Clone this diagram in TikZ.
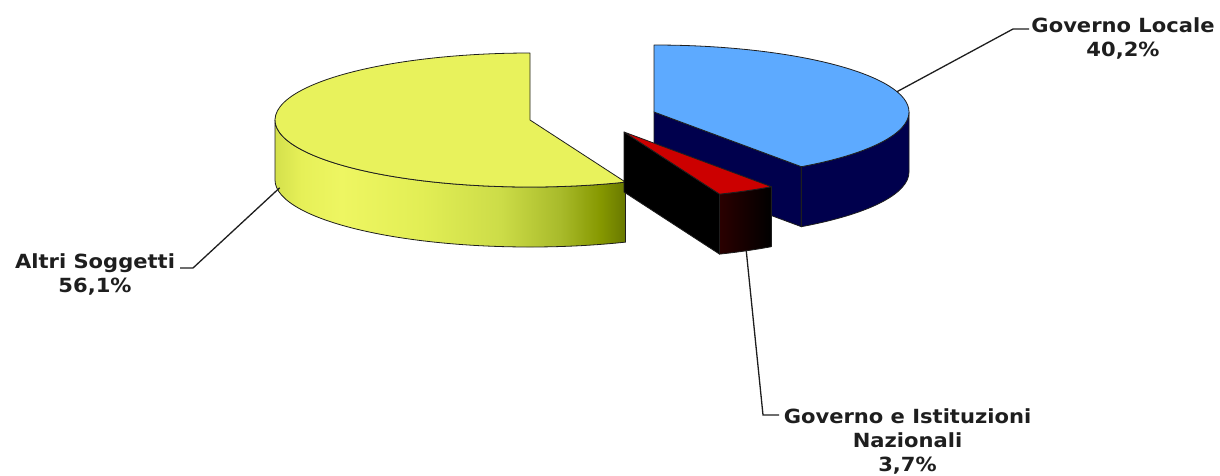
\documentclass[tikz,border=0pt]{standalone}
\usepackage{fontspec}
\setmainfont{DejaVu Sans}
\newfontfamily\lblfont[FakeStretch=1.08]{DejaVu Sans Bold}
\usetikzlibrary{calc}
\definecolor{ytop}{HTML}{E8F25C}
\definecolor{ys0}{HTML}{D4E04C}
\definecolor{ys1}{HTML}{E6F058}
\definecolor{ys2}{HTML}{EEF662}
\definecolor{ys3}{HTML}{E2EE55}
\definecolor{ys4}{HTML}{CCDC48}
\definecolor{ys5}{HTML}{A8BA2A}
\definecolor{ys6}{HTML}{869800}
\definecolor{ys7}{HTML}{687800}
\definecolor{btop}{HTML}{5DAAFF}
\definecolor{navy}{HTML}{00004D}
\definecolor{rtop}{HTML}{CC0000}
\definecolor{rs1}{HTML}{2A0000}
\definecolor{ink}{HTML}{1E1E1E}
\pgfdeclarehorizontalshading{yside}{100bp}{color(0bp)=(ys0); color(25bp)=(ys0); color(28.8bp)=(ys1); color(34.5bp)=(ys2); color(45.9bp)=(ys3); color(57.2bp)=(ys4); color(65.8bp)=(ys5); color(71.4bp)=(ys6); color(75bp)=(ys7); color(100bp)=(ys7)}
\begin{document}
\begin{tikzpicture}[x=1pt,y=1pt,
  edge/.style={draw=ink, line width=0.8pt, line join=round},
  lead/.style={draw=ink, line width=1.3pt},
  ell/.style={x radius=255pt, y radius=67pt},
  lbl/.style={font=\lblfont\fontsize{19.5}{24}\selectfont, align=center, inner sep=0pt, text=ink}]
\useasboundingbox (0,0) rectangle (1220,-475);
\coordinate (Y) at (530,-120);
\coordinate (B) at (654,-112);
\coordinate (R) at (624,-132);
% yellow slice
\shadedraw[shading=yside, edge] ($(Y)+(180:255pt and 67pt)$) arc[ell,start angle=180,end angle=292] -- ++(0,-60) arc[ell,start angle=292,end angle=180] -- cycle;
\filldraw[fill=ytop, edge] (Y) -- ($(Y)+(292:255pt and 67pt)$) arc[ell,start angle=292,end angle=90] -- cycle;
% blue slice
\filldraw[fill=navy, edge] (B) -- ($(B)+(-54.7:255pt and 67pt)$) -- ++(0,-60) -- ($(B)+(0,-60)$) -- cycle;
\filldraw[fill=navy, edge] ($(B)+(-54.7:255pt and 67pt)$) arc[ell,start angle=-54.7,end angle=0] -- ++(0,-60) arc[ell,start angle=0,end angle=-54.7] -- cycle;
\filldraw[fill=btop, edge] (B) -- ($(B)+(90:255pt and 67pt)$) arc[ell,start angle=90,end angle=-54.7] -- cycle;
% red slice
\filldraw[fill=black, edge] (R) -- ($(R)+(-68:255pt and 67pt)$) -- ++(0,-60) -- ($(R)+(0,-60)$) -- cycle;
\shadedraw[left color=rs1, right color=black, edge] ($(R)+(-68:255pt and 67pt)$) arc[ell,start angle=-68,end angle=-54.7] -- ++(0,-60) arc[ell,start angle=-54.7,end angle=-68] -- cycle;
\filldraw[fill=rtop, edge] (R) -- ($(R)+(-54.7:255pt and 67pt)$) arc[ell,start angle=-54.7,end angle=-68] -- cycle;
% labels
\node[lbl, anchor=north] (gl) at (1123,-17.5) {Governo Locale\\40,2\%};
\node[lbl, anchor=north] (as) at (95,-253.5) {Altri Soggetti\\56,1\%};
\node[lbl, anchor=north] (gin) at (907.5,-408) {Governo e Istituzioni\\Nazionali\\3,7\%};
% leaders
\coordinate (gl0) at ($(B)+(17.65:255pt and 67pt)$);
\coordinate (gl1) at (1013,-29);
\coordinate (gl2) at (1029,-29);
\coordinate (as0) at ($(Y)+(191:255pt and 67pt)+(0,-55)$);
\coordinate (as1) at (193,-268);
\coordinate (as2) at (180,-268);
\coordinate (gin0) at ($(R)+(-61.35:255pt and 67pt)+(0,-60)$);
\coordinate (gin1) at (763,-415);
\coordinate (gin2) at (779,-415);
\draw[lead] (gl0) -- (gl1) -- (gl2);
\draw[lead] (as0) -- (as1) -- (as2);
\draw[lead] (gin0) -- (gin1) -- (gin2);
\end{tikzpicture}
\end{document}
